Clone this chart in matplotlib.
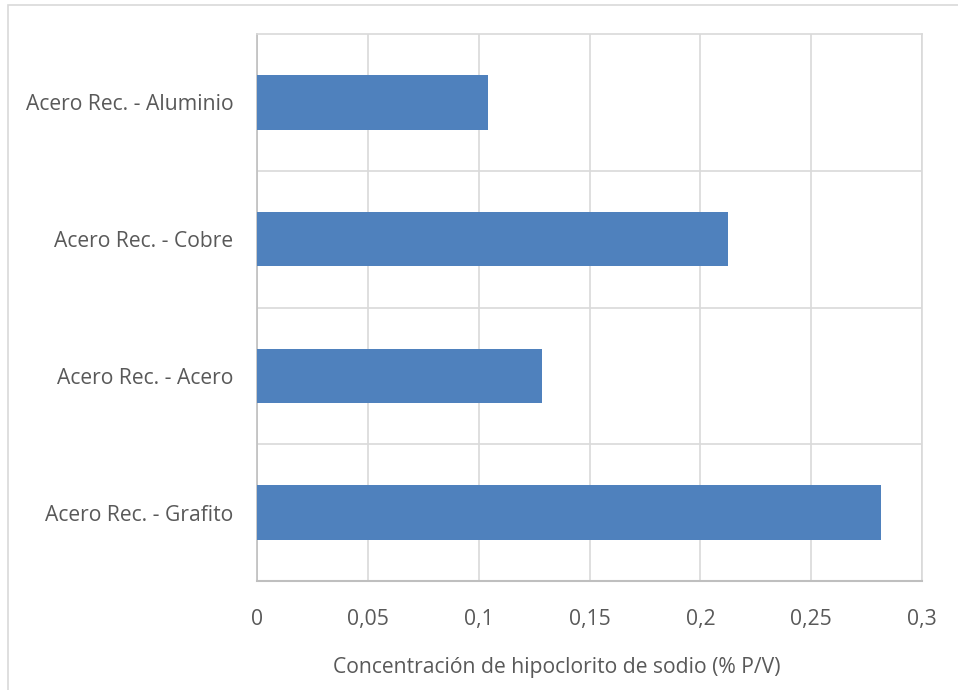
import matplotlib
matplotlib.use("Agg")
import matplotlib.pyplot as plt
from matplotlib.patches import Rectangle
from matplotlib.ticker import FuncFormatter

categories = ["Acero Rec. - Grafito", "Acero Rec. - Acero", "Acero Rec. - Cobre", "Acero Rec. - Aluminio"]
values = [0.2815, 0.1285, 0.2125, 0.1042]
xticks = [0, 0.05, 0.1, 0.15, 0.2, 0.25, 0.3]
xlabel = "Concentración de hipoclorito de sodio (% P/V)"

plt.rcParams['font.family'] = ['Open Sans', 'DejaVu Sans']
W, H = 958, 690
fig = plt.figure(figsize=(W/100, H/100), dpi=100)
# outer chart border
fig.patches.append(Rectangle((8/W, -0.05), 1.2, (H-5)/H + 0.05, transform=fig.transFigure,
                             fill=False, edgecolor="#d9d9d9", linewidth=1.2))
left, right, top, bottom = 257, 922, 34, 581
ax = fig.add_axes([left/W, 1-bottom/H, (right-left)/W, (bottom-top)/H])

ypos = list(range(len(categories)))
ax.barh(ypos, values, height=0.4, color="#4F81BD", zorder=3)
ax.set_xlim(0, 0.3)
ax.set_ylim(-0.5, len(categories)-0.5)
ax.set_xticks(xticks)
ax.xaxis.set_major_formatter(FuncFormatter(lambda v, p: ("%g" % v).replace(".", ",")))
ax.set_yticks(ypos)
ax.set_yticklabels(categories)
ax.set_yticks([i + 0.5 for i in ypos[:-1]], minor=True)
ax.grid(axis='x', color="#d9d9d9", linewidth=1.2, zorder=0)
ax.grid(axis='y', which='minor', color="#d9d9d9", linewidth=1.2, zorder=0)
for s in ['top', 'right']:
    ax.spines[s].set_color("#d9d9d9")
    ax.spines[s].set_linewidth(1.2)
ax.spines['left'].set_color("#bfbfbf")
ax.spines['bottom'].set_color("#bfbfbf")
ax.spines['left'].set_linewidth(1.2)
ax.spines['bottom'].set_linewidth(1.5)
ax.tick_params(axis='both', which='both', length=0, colors="#595959", labelsize=15.2)
ax.tick_params(axis='x', pad=20)
ax.tick_params(axis='y', pad=17)
ax.set_xlabel(xlabel, color="#595959", fontsize=15.2, labelpad=20)
ax.xaxis.set_label_coords((557 - left) / (right - left), -0.139)

fig.savefig("out.png", dpi=100)
